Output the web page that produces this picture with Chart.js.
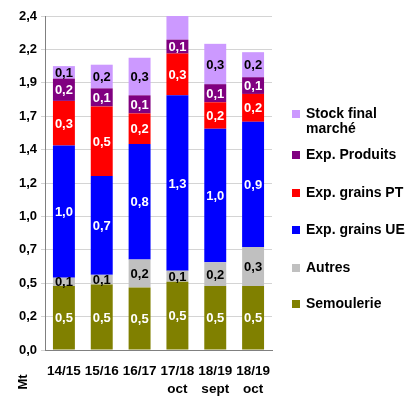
<!DOCTYPE html>
<html>
<head>
<meta charset="utf-8">
<script src="https://cdn.jsdelivr.net/npm/chart.js@4"></script>
<style>
  html, body { margin: 0; padding: 0; background: #fff; }
  canvas { display: block; }
</style>
</head>
<body>
<canvas id="graf" width="409" height="396"></canvas>
<script>
const campagnes = [['14/15'], ['15/16'], ['16/17'], ['17/18', 'oct'], ['18/19', 'sept'], ['18/19', 'oct']];

const semoulerie  = [0.46, 0.47, 0.45, 0.49, 0.46, 0.46];
const autres      = [0.06, 0.07, 0.20, 0.08, 0.17, 0.28];
const expUE       = [0.95, 0.71, 0.83, 1.26, 0.96, 0.90];
const expPT       = [0.32, 0.50, 0.22, 0.30, 0.19, 0.20];
const expProduits = [0.16, 0.13, 0.13, 0.10, 0.13, 0.12];
const stockFinal  = [0.09, 0.17, 0.27, 0.18, 0.29, 0.18];

const series = [
  { nom: 'Semoulerie', data: semoulerie, couleur: '#808000', texte: '#fff' },
  { nom: 'Autres', data: autres, couleur: '#c0c0c0', texte: '#000' },
  { nom: 'Exp. grains UE', data: expUE, couleur: '#0000ff', texte: '#fff' },
  { nom: 'Exp. grains PT', data: expPT, couleur: '#ff0000', texte: '#fff' },
  { nom: 'Exp. Produits', data: expProduits, couleur: '#800080', texte: '#fff' },
  { nom: ['Stock final', 'marché'], data: stockFinal, couleur: '#cc99ff', texte: '#000' }
];

const police = '"Liberation Sans", Arial, sans-serif';

function virgule(v) {
  return (Math.round(v * 10 + 1e-9) / 10).toFixed(1).replace('.', ',');
}

// etiquettes dans les barres + legende + "Mt"
const dessins = {
  id: 'dessins',
  afterDatasetsDraw(chart) {
    const ctx = chart.ctx;
    const zone = chart.chartArea;
    ctx.save();
    ctx.font = 'bold 13px ' + police;
    ctx.textAlign = 'center';
    ctx.textBaseline = 'middle';
    chart.data.datasets.forEach((ds, i) => {
      const meta = chart.getDatasetMeta(i);
      meta.data.forEach((barre, j) => {
        const p = barre.getProps(['x', 'y', 'base'], true);
        if (p.y < zone.top) return;
        ctx.fillStyle = series[i].texte;
        ctx.fillText(virgule(ds.data[j]), p.x, (p.y + p.base) / 2 + 1);
      });
    });
    ctx.restore();
  },
  afterDraw(chart) {
    const ctx = chart.ctx;
    ctx.save();
    ctx.font = 'bold 14px ' + police;
    ctx.textBaseline = 'middle';
    ctx.textAlign = 'left';
    const posY = [304, 268, 230, 193, 155, 114];
    series.forEach((s, i) => {
      const y = posY[i];
      ctx.fillStyle = s.couleur;
      ctx.fillRect(292, y - 4, 8, 8);
      ctx.fillStyle = '#000';
      const lignes = Array.isArray(s.nom) ? s.nom : [s.nom];
      lignes.forEach((l, k) => ctx.fillText(l, 306, y + k * 15));
    });
    // titre de l'axe
    ctx.font = 'bold 13px ' + police;
    ctx.translate(23, 382);
    ctx.rotate(-Math.PI / 2);
    ctx.textAlign = 'center';
    ctx.fillText('Mt', 0, 0);
    ctx.restore();
  }
};

new Chart(document.getElementById('graf'), {
  type: 'bar',
  data: {
    labels: campagnes,
    datasets: series.map(s => ({
      label: Array.isArray(s.nom) ? s.nom.join(' ') : s.nom,
      data: s.data,
      backgroundColor: s.couleur,
      barPercentage: 0.58,
      categoryPercentage: 1
    }))
  },
  options: {
    responsive: false,
    animation: false,
    devicePixelRatio: 1,
    layout: { padding: { top: 16, right: 137, left: 0, bottom: 0 } },
    plugins: { legend: { display: false }, tooltip: { enabled: false } },
    scales: {
      x: {
        stacked: true,
        grid: { display: false },
        border: { display: true, color: '#808080' },
        ticks: {
          color: '#000',
          font: { family: police, size: 13.5, weight: 'bold', lineHeight: 1.3 },
          padding: 5,
          maxRotation: 0
        },
        afterFit(s) { s.height = 46; }
      },
      y: {
        stacked: true,
        min: 0,
        max: 2.4,
        grid: { color: '#d4d4d4', tickLength: 4 },
        border: { color: '#808080' },
        ticks: {
          stepSize: 0.24,
          color: '#000',
          padding: 4,
          font: { family: police, size: 13, weight: 'bold' },
          callback: v => v.toFixed(1).replace('.', ',')
        },
        afterFit(s) { s.width = 45; }
      }
    }
  },
  plugins: [dessins]
});
</script>
</body>
</html>
